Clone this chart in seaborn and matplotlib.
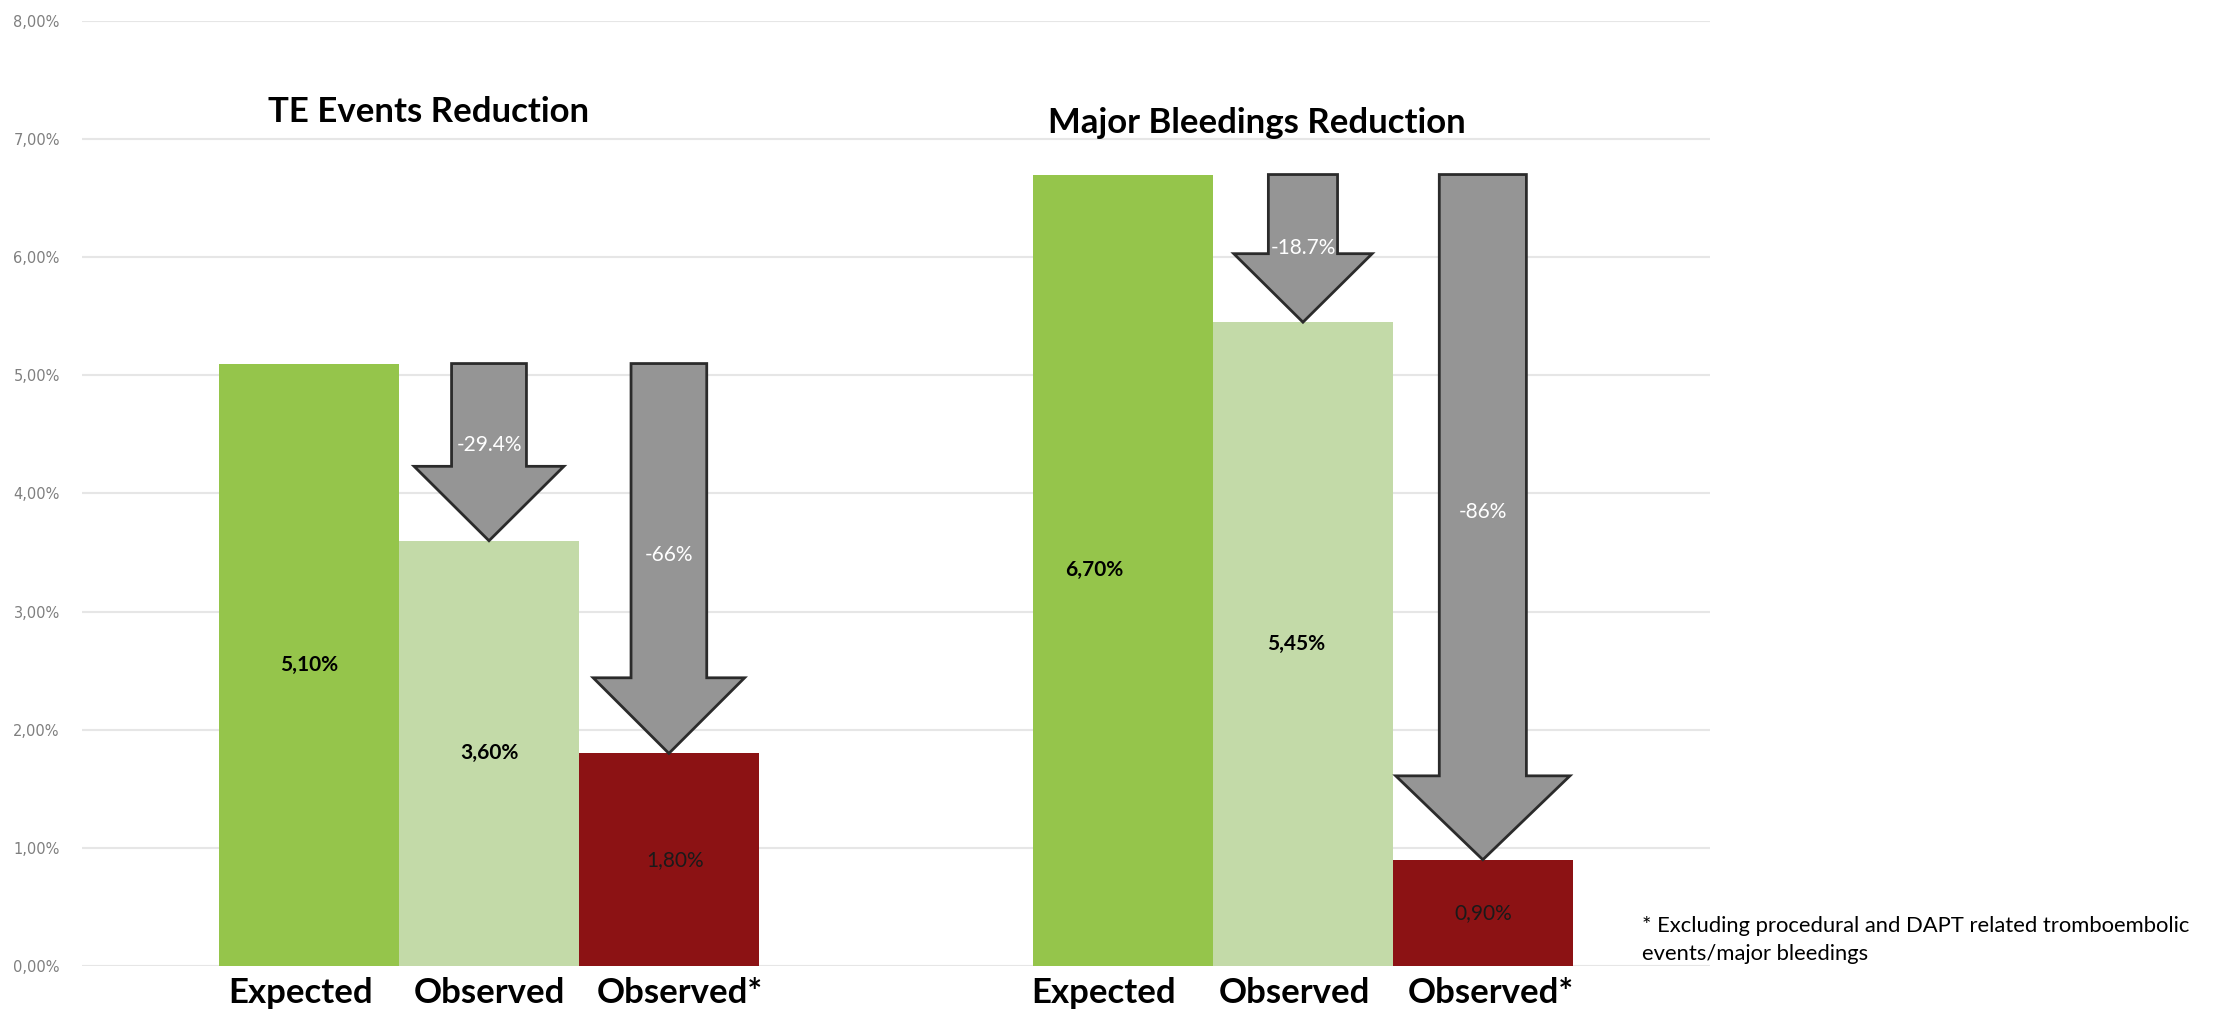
import matplotlib
matplotlib.use("Agg")
import matplotlib.pyplot as plt
from matplotlib.patches import Polygon
import seaborn as sns
import pandas as pd

# ---- data ----
groups = ["TE Events Reduction", "Major Bleedings Reduction"]
series = ["Expected", "Observed", "Observed*"]
te_values = [5.10, 3.60, 1.80]
mb_values = [6.70, 5.45, 0.90]
te_value_labels = ["5,10%", "3,60%", "1,80%"]
mb_value_labels = ["6,70%", "5,45%", "0,90%"]
te_reductions = ["-29.4%", "-66%"]
mb_reductions = ["-18.7%", "-86%"]
y_ticks = [0, 1, 2, 3, 4, 5, 6, 7, 8]
y_tick_labels = ["0,00%", "1,00%", "2,00%", "3,00%", "4,00%",
                 "5,00%", "6,00%", "7,00%", "8,00%"]
footnote = ("* Excluding procedural and DAPT related tromboembolic\n"
            "events/major bleedings")

# ---- styling ----
colors = ["#95C54B", "#C3DAA8", "#8C1214"]
arrow_face = "#959595"
arrow_edge = "#2b2b2b"
group_width = 0.663
# arrow geometry per group: [to Observed, to Observed*]
shaft_widths = [[0.092, 0.093], [0.085, 0.107]]
head_lengths = [[0.63, 0.64], [0.58, 0.71]]
label_y = [[4.41, 3.48], [6.08, 3.84]]
title_pos = [(-0.074, 7.23), (0.943, 7.14)]
# small horizontal nudges (axis fraction of one category) for text
value_label_dx = [[0.0, 0.0, 0.007], [-0.035, -0.008, 0.0]]
category_label_dx = [[-0.011, 0.0, 0.013], [-0.024, -0.011, 0.010]]

df = pd.DataFrame({
    "group": [g for g in groups for _ in series],
    "series": series * len(groups),
    "value": te_values + mb_values,
})

sns.set_theme(style="white")
plt.rcParams["font.family"] = ["Lato", "DejaVu Sans"]

fig = plt.figure(figsize=(22.23, 10.17), dpi=100)
ax = fig.add_axes([0.0369, 0.0501, 0.7323, 0.9293])

sns.barplot(data=df, x="group", y="value", hue="series", order=groups,
            hue_order=series, palette=colors, width=group_width, gap=0,
            linewidth=0, saturation=1, legend=False, ax=ax, zorder=2)

ax.set_xlim(-0.5, 1.5)
ax.set_ylim(0, 8)
ax.set_xlabel("")
ax.set_ylabel("")
for s in ax.spines.values():
    s.set_visible(False)

ax.set_yticks(y_ticks)
ax.set_yticklabels(y_tick_labels, family="DejaVu Sans", fontsize=10.5,
                   color="#7f7f7f")
ax.yaxis.grid(True, color="#e6e6e6", linewidth=1.5, zorder=0)
ax.set_axisbelow(True)
ax.tick_params(axis="y", length=0, pad=16)

bar_w = group_width / len(series)
offsets = [(j - 1) * bar_w for j in range(len(series))]
tick_pos = [gi + offsets[j] + category_label_dx[gi][j]
            for gi in range(len(groups)) for j in range(len(series))]
ax.set_xticks(tick_pos)
ax.set_xticklabels(series * len(groups), fontsize=25, fontweight="bold",
                   color="black")
ax.tick_params(axis="x", length=0, pad=8)

# value labels in the middle of each bar
all_values = [te_values, mb_values]
all_value_labels = [te_value_labels, mb_value_labels]
for gi in range(len(groups)):
    for j in range(len(series)):
        v = all_values[gi][j]
        bold = j < 2
        ax.text(gi + offsets[j] + value_label_dx[gi][j], v / 2,
                all_value_labels[gi][j], ha="center", va="center",
                fontsize=15, fontweight="bold" if bold else "normal",
                color="black" if bold else "#1a1a1a", zorder=5)


def down_arrow(x, y_top, y_tip, shaft_w, head_len):
    head_w = 2 * shaft_w
    base = y_tip + head_len
    pts = [
        (x - shaft_w / 2, y_top), (x + shaft_w / 2, y_top),
        (x + shaft_w / 2, base), (x + head_w / 2, base),
        (x, y_tip), (x - head_w / 2, base),
        (x - shaft_w / 2, base),
    ]
    ax.add_patch(Polygon(pts, closed=True, facecolor=arrow_face,
                         edgecolor=arrow_edge, linewidth=2, zorder=4,
                         joinstyle="miter"))


all_reductions = [te_reductions, mb_reductions]
for gi in range(len(groups)):
    top = all_values[gi][0]
    for k in range(2):
        j = k + 1
        x = gi + offsets[j]
        down_arrow(x, top, all_values[gi][j], shaft_widths[gi][k],
                   head_lengths[gi][k])
        ax.text(x, label_y[gi][k], all_reductions[gi][k], ha="center",
                va="center", fontsize=15, color="white", zorder=6)

for gi, (tx, ty) in enumerate(title_pos):
    ax.text(tx, ty, groups[gi], ha="center", va="center", fontsize=25,
            fontweight="bold", color="black")

fig.text(1642 / 2223, 1 - 940 / 1017, footnote, ha="left", va="center",
         fontsize=15.8, color="black", linespacing=1.5)

fig.savefig("out.png", dpi=100, facecolor="white")
